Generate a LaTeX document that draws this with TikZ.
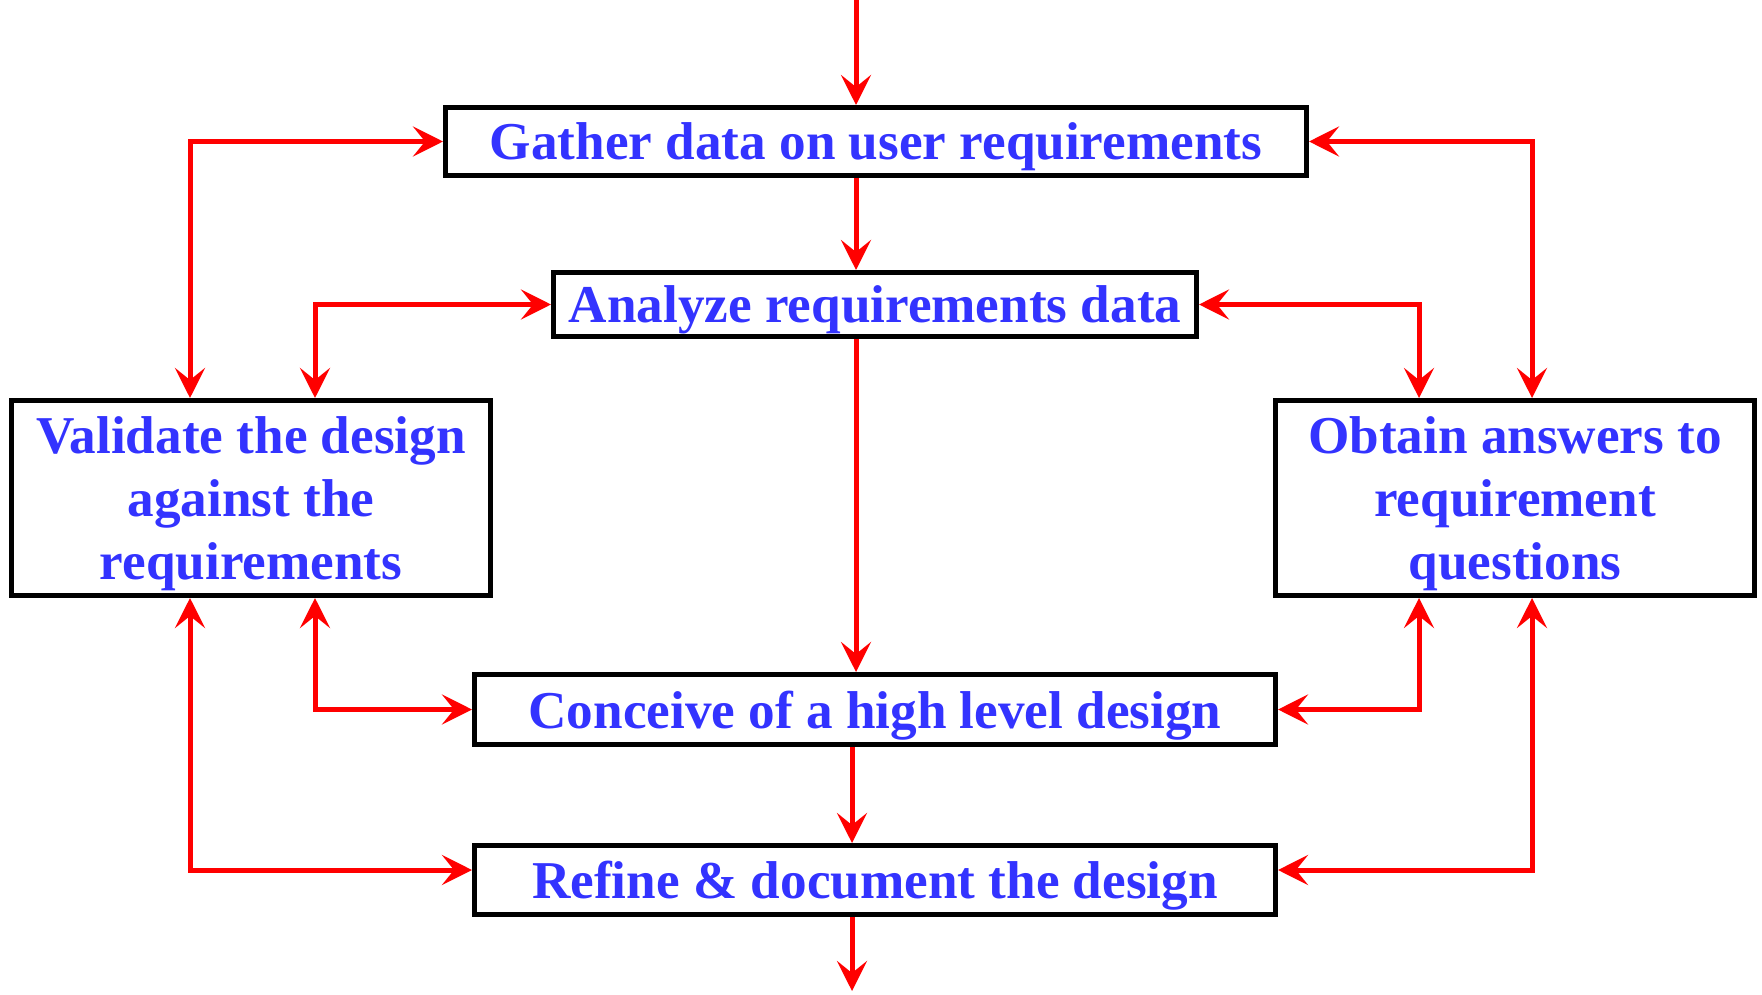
\documentclass[tikz,border=0pt]{standalone}
\usepackage{fontspec}
\setmainfont{Liberation Serif}
\usepackage{xcolor}
\usetikzlibrary{arrows.meta}
\definecolor{stageblue}{RGB}{51,51,255}
\tikzset{
  stage/.style={draw, line width=2.5pt, inner sep=0pt, align=center, text=stageblue, text depth=0pt,
    font=\bfseries\fontsize{26.6}{31.5}\selectfont},
  link/.style={draw=red, line width=2.5pt},
  >={Stealth[length=15pt,width=15pt,inset=6pt]},
}

\begin{document}
\begin{tikzpicture}[x=0.5pt,y=-0.5pt]
    \useasboundingbox (0,0) rectangle (1762,995);
    % process boxes
    \node[stage, minimum width=430.5pt, minimum height=34pt] (gather) at (876,141.5) {Gather data on user requirements};
    \node[stage, minimum width=321.5pt, minimum height=32pt] (analyze) at (875,304.5) {Analyze requirements data};
    \node[stage, minimum width=239.5pt, minimum height=97.5pt] (validate) at (251,498) {Validate the design\\against the\\requirements};
    \node[stage, minimum width=239.5pt, minimum height=97.5pt] (obtain) at (1515,498) {Obtain answers to\\requirement\\questions};
    \node[stage, minimum width=400.5pt, minimum height=35pt] (conceive) at (875,709.5) {Conceive of a high level design};
    \node[stage, minimum width=400.5pt, minimum height=34.5pt] (refine) at (875,880) {Refine \& document the design};
    % lanes for the connectors
    \coordinate (start) at (856,0);
    \coordinate (spine) at (852,0);
    \coordinate (finish) at (852,991);
    \coordinate (laneA) at (190,0);
    \coordinate (laneB) at (315,0);
    \coordinate (laneC) at (1419,0);
    \coordinate (laneD) at (1532,0);
    % main flow
    \draw[link,->] (start) -- (gather.north -| start);
    \draw[link,->] (gather.south -| start) -- (analyze.north -| start);
    \draw[link,->] (analyze.south -| start) -- (conceive.north -| start);
    \draw[link,->] (conceive.south -| spine) -- (refine.north -| spine);
    \draw[link,->] (refine.south -| spine) -- (finish);
    % feedback loops
    \draw[link,<->] (validate.north -| laneA) |- (gather.west);
    \draw[link,<->] (validate.north -| laneB) |- (analyze.west);
    \draw[link,<->] (obtain.north -| laneD) |- (gather.east);
    \draw[link,<->] (obtain.north -| laneC) |- (analyze.east);
    \draw[link,<->] (validate.south -| laneB) |- (conceive.west);
    \draw[link,<->] (validate.south -| laneA) |- ([yshift=5pt]refine.west);
    \draw[link,<->] (obtain.south -| laneC) |- (conceive.east);
    \draw[link,<->] (obtain.south -| laneD) |- ([yshift=5pt]refine.east);
\end{tikzpicture}
\end{document}
